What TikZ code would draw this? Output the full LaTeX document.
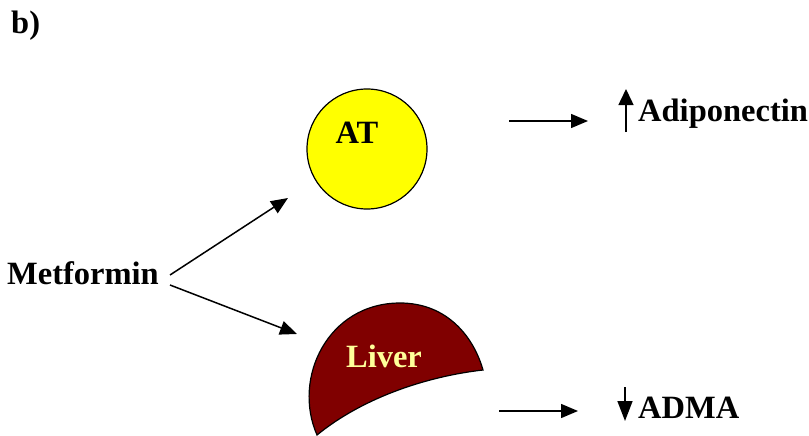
\documentclass[tikz,border=0pt]{standalone}
\usepackage{fontspec}
\setmainfont{Liberation Serif}
\usetikzlibrary{arrows.meta}
\definecolor{liverred}{RGB}{128,0,0}
\definecolor{paleyellow}{RGB}{255,255,153}
\definecolor{atyellow}{RGB}{255,255,0}
\tikzset{
  lbl/.style={font=\fontsize{32.5}{38}\selectfont\bfseries, inner sep=0pt},
  conn/.style={line width=1.5pt, -{Triangle[length=17pt,width=14pt]}},
  upar/.style={line width=1.5pt, -{Triangle[length=16pt,width=15pt]}},
  dnar/.style={line width=1.5pt, -{Triangle[length=20pt,width=15pt]}},
}
\begin{document}
\begin{tikzpicture}[x=1pt,y=-1pt]
  \useasboundingbox (0,0) rectangle (809,436);

  % panel label
  \node[lbl, anchor=west] (panel) at (11,26) {b)};

  % drug
  \node[lbl, anchor=west] (met) at (7,273) {Metformin};

  % adipose tissue
  \node[circle, draw, line width=1.2pt, fill=atyellow, minimum size=120pt, inner sep=0pt] (at) at (367,149) {};
  \node[lbl] (atlbl) at (357,133) {AT};

  % liver
  \draw[line width=1.2pt, fill=liverred]
    (317,435) .. controls (292,378) and (328,303) .. (400,303)
              .. controls (448,303) and (474,338) .. (483,370)
              .. controls (430,376) and (365,396) .. (317,435) -- cycle;
  \node[lbl, text=paleyellow] (liverlbl) at (384,356) {Liver};

  % Metformin acts on both tissues
  \coordinate (metA) at (170,275);
  \coordinate (metB) at (170,285);
  \coordinate (atIn) at (288,198);
  \coordinate (livIn) at (297,334);
  \draw[conn] (metA) -- (atIn);
  \draw[conn] (metB) -- (livIn);

  % adiponectin output
  \coordinate (atOutS) at (509,121);
  \coordinate (atOutE) at (588,121);
  \draw[conn] (atOutS) -- (atOutE);
  \coordinate (upS) at (626,132);
  \coordinate (upE) at (626,89);
  \draw[upar] (upS) -- (upE);
  \node[lbl, anchor=west] (adipo) at (638,114) {Adiponectin};

  % ADMA output
  \coordinate (livOutS) at (499,411);
  \coordinate (livOutE) at (578,411);
  \draw[conn] (livOutS) -- (livOutE);
  \coordinate (dnS) at (625,387);
  \coordinate (dnE) at (625,421);
  \draw[dnar] (dnS) -- (dnE);
  \node[lbl, anchor=west] (adma) at (638,408) {ADMA};
\end{tikzpicture}
\end{document}
